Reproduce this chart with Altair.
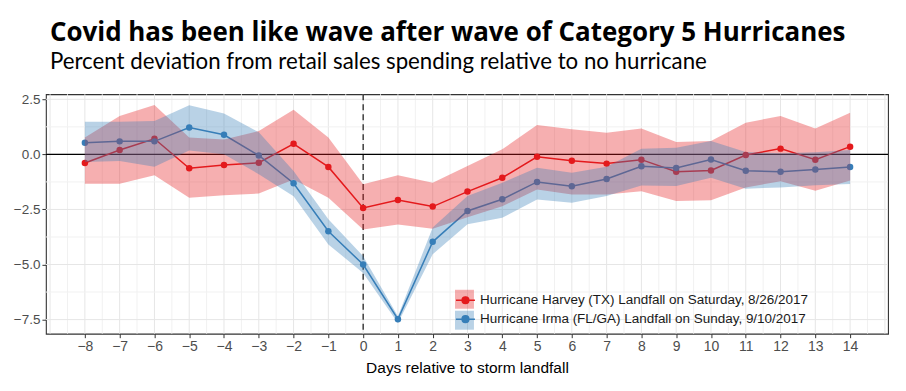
import altair as alt
import pandas as pd

days = list(range(-8, 15))

harvey_name = "Hurricane Harvey (TX) Landfall on Saturday, 8/26/2017"
irma_name = "Hurricane Irma (FL/GA) Landfall on Sunday, 9/10/2017"

harvey = [-0.39, 0.20, 0.71, -0.63, -0.48, -0.38, 0.48, -0.57, -2.43, -2.07, -2.37, -1.69,
          -1.06, -0.11, -0.29, -0.42, -0.24, -0.79, -0.73, -0.03, 0.26, -0.24, 0.35]
harvey_hi = [0.76, 1.74, 2.24, 0.76, 0.68, 1.06, 2.02, 0.76, -1.36, -0.95, -1.29, -0.53,
             0.23, 1.33, 1.14, 0.98, 1.17, 0.56, 0.61, 1.44, 1.74, 1.17, 1.89]
harvey_lo = [-1.33, -1.33, -0.95, -1.97, -1.86, -1.78, -1.14, -1.97, -3.41, -3.18, -3.38, -2.85,
             -2.35, -1.59, -1.82, -1.82, -1.67, -2.12, -2.08, -1.50, -1.22, -1.65, -1.19]

irma = [0.53, 0.59, 0.59, 1.22, 0.89, -0.05, -1.31, -3.49, -5.00, -7.48, -3.97, -2.57,
        -2.04, -1.25, -1.45, -1.12, -0.54, -0.62, -0.23, -0.74, -0.79, -0.69, -0.57]
irma_hi = [1.48, 1.48, 1.52, 2.23, 1.86, 1.00, -0.75, -2.95, -4.62, -7.35, -3.32, -1.89,
           -1.29, -0.61, -0.83, -0.56, 0.26, 0.30, 0.61, 0.11, 0.05, 0.10, 0.20]
irma_lo = [-0.35, -0.30, -0.56, 0.18, 0.00, -0.90, -1.90, -4.09, -5.38, -7.65, -4.53, -3.17,
           -2.88, -2.05, -2.20, -1.89, -1.41, -1.44, -1.06, -1.56, -1.50, -1.40, -1.35]

x_ticks = days
y_ticks = [-7.5, -5.0, -2.5, 0.0, 2.5]
x_grid = [v / 2 for v in range(-18, 31)]
y_grid = [-7.5, -6.25, -5.0, -3.75, -2.5, -1.25, 0.0, 1.25, 2.5]

series_names = [harvey_name, irma_name]
band_names = [harvey_name + " ", irma_name + " "]
series_colors = ["#e41a1c", "#377eb8"]

rows = []
for name, bname, vals, lo, hi in [(harvey_name, band_names[0], harvey, harvey_lo, harvey_hi),
                                  (irma_name, band_names[1], irma, irma_lo, irma_hi)]:
    for d, v, l, h in zip(days, vals, lo, hi):
        rows.append({"day": d, "value": v, "lo": l, "hi": h,
                     "series": name, "band": bname})
df = pd.DataFrame(rows)

gx = pd.DataFrame({"day": x_grid, "major": [v % 1 == 0 for v in x_grid]})
gy = pd.DataFrame({"value": y_grid, "major": [v % 2.5 == 0 for v in y_grid]})
zero_df = pd.DataFrame({"value": [0.0]})
landfall_df = pd.DataFrame({"day": [0]})

LEG_X, LEG_Y = 410, 196
sym_path = ("M-1,0L1,0"
            "M0.36,0A0.36,0.36,0,1,1,-0.36,0A0.36,0.36,0,1,1,0.36,0"
            "M0.24,0A0.24,0.24,0,1,1,-0.24,0A0.24,0.24,0,1,1,0.24,0"
            "M0.12,0A0.12,0.12,0,1,1,-0.12,0A0.12,0.12,0,1,1,0.12,0")

X = alt.X("day:Q",
          scale=alt.Scale(domain=[-9.12, 15.09], nice=False, zero=False),
          axis=alt.Axis(values=x_ticks, title="Days relative to storm landfall",
                        grid=False, labelOverlap=False, labelFlush=False,
                        labelFontSize=14, titlePadding=7))
Y = alt.Y("value:Q",
          scale=alt.Scale(domain=[-8.14, 2.73], nice=False, zero=False),
          axis=alt.Axis(values=y_ticks, title=None, format=".1f", grid=False,
                        labelOverlap=False, labelFlush=False, labelFontSize=13.5))

grid_x = alt.Chart(gx).mark_rule(strokeWidth=1).encode(
    x=X,
    color=alt.condition("datum.major", alt.value("#e6e6e6"), alt.value("#f1f1f1")))
grid_y = alt.Chart(gy).mark_rule(strokeWidth=1).encode(
    y=Y,
    color=alt.condition("datum.major", alt.value("#e6e6e6"), alt.value("#f1f1f1")))

zero_rule = alt.Chart(zero_df).mark_rule(color="black", strokeWidth=1.1).encode(y=Y)
vline = alt.Chart(landfall_df).mark_rule(color="black", strokeWidth=1.1,
                                         strokeDash=[6, 4]).encode(x=X)

base = alt.Chart(df)
lines = base.mark_line(strokeWidth=1.5).encode(
    x=X, y=Y,
    stroke=alt.Stroke("series:N",
                      scale=alt.Scale(domain=series_names, range=series_colors),
                      legend=alt.Legend(orient="none", legendX=LEG_X, legendY=LEG_Y, title=None,
                                        symbolType=sym_path, symbolSize=361, symbolStrokeWidth=1.4,
                                        symbolFillColor="transparent",
                                        labelFont="Liberation Sans", labelFontSize=13.5,
                                        labelColor="#1a1a1a", labelLimit=600, labelOffset=4,
                                        rowPadding=2, padding=0)))
points = base.mark_circle(size=42, opacity=1).encode(
    x=X, y=Y,
    fill=alt.Fill("series:N", scale=alt.Scale(domain=series_names, range=series_colors),
                  legend=None))
bands = base.mark_area(opacity=0.35).encode(
    x=X, y=alt.Y("lo:Q"), y2="hi:Q",
    color=alt.Color("band:N",
                    scale=alt.Scale(domain=band_names, range=series_colors),
                    legend=alt.Legend(orient="none", legendX=LEG_X, legendY=LEG_Y, title=None,
                                      symbolType="square", symbolSize=361, symbolOpacity=0.35,
                                      symbolStrokeWidth=0, labelExpr="''",
                                      labelFont="Liberation Sans", labelFontSize=13.5,
                                      labelLimit=600, labelOffset=4,
                                      rowPadding=2, padding=0)))

chart = alt.layer(grid_x, grid_y, zero_rule, vline, lines, points, bands).properties(
    width=844, height=240,
    title=alt.TitleParams(
        text="Covid has been like wave after wave of Category 5 Hurricanes",
        subtitle="Percent deviation from retail sales spending relative to no hurricane",
        anchor="start", frame="group", font="Open Sans", fontSize=26, fontWeight="bold",
        color="black", subtitleFont="Lato", subtitleFontSize=22.3, subtitleColor="black",
        subtitlePadding=5, offset=19, dx=4),
    autosize=alt.AutoSizeParams(type="none"),
    padding={"left": 38, "top": 86, "right": 10, "bottom": 45},
).configure_view(stroke="#333333", strokeWidth=1.1).configure_axis(
    domain=False, tickColor="#333333", tickSize=4, labelFont="Liberation Sans",
    labelColor="#4d4d4d", labelPadding=2,
    titleFont="Liberation Sans", titleFontSize=15.5, titleFontWeight="normal",
    titleColor="black")

chart.save("out.html", embed_options={"renderer": "svg", "actions": False})
